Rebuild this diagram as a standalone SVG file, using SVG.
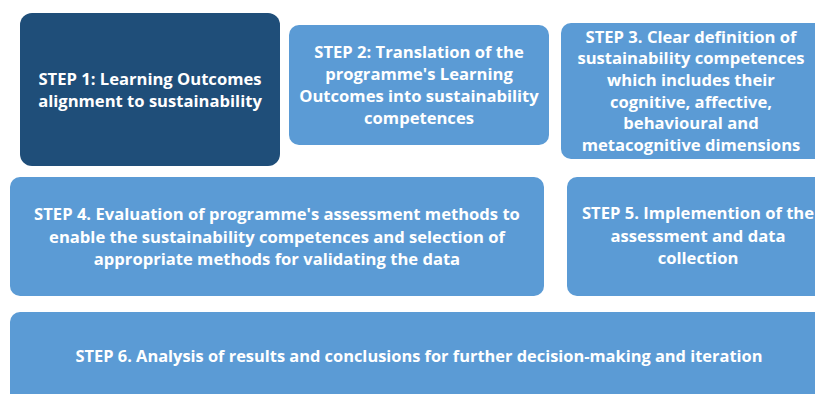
<svg xmlns="http://www.w3.org/2000/svg" width="815" height="394" viewBox="0 0 815 394">
<style>
.b{fill:#5B9BD5;}
.d{fill:#1F4E79;}
text{font-family:"Open Sans","Liberation Sans",sans-serif;font-weight:bold;font-size:16.6px;fill:#FFFFFF;text-anchor:middle;}
.s{font-size:16.4px;}
</style>
<rect width="815" height="394" fill="#FFFFFF"/>
<g id="step1">
<rect class="d" x="20" y="13" width="260" height="153" rx="12"/>
<text x="150" y="85">STEP 1: Learning Outcomes</text>
<text x="150" y="107">alignment to sustainability</text>
</g>
<g id="step2">
<rect class="b" x="289" y="25" width="260" height="120" rx="10"/>
<text x="419" y="58">STEP 2: Translation of the</text>
<text x="419" y="80">programme's Learning</text>
<text x="419" y="102">Outcomes into sustainability</text>
<text x="419" y="124">competences</text>
</g>
<g id="step3">
<rect class="b" x="561" y="23" width="270" height="136" rx="10"/>
<text x="691" y="43">STEP 3. Clear definition of</text>
<text x="691" y="64">sustainability competences</text>
<text x="691" y="86">which includes their</text>
<text x="691" y="108">cognitive, affective,</text>
<text x="691" y="129">behavioural and</text>
<text x="691" y="151">metacognitive dimensions</text>
</g>
<g id="step4">
<rect class="b" x="10" y="177" width="534" height="119" rx="10"/>
<text x="277" y="220">STEP 4. Evaluation of programme's assessment methods to</text>
<text x="277" y="243">enable the sustainability competences and selection of</text>
<text x="277" y="265">appropriate methods for validating the data</text>
</g>
<g id="step5">
<rect class="b" x="567" y="177" width="270" height="119" rx="10"/>
<text x="698" y="219">STEP 5. Implemention of the</text>
<text x="698" y="242">assessment and data</text>
<text x="698" y="264">collection</text>
</g>
<g id="step6">
<rect class="b" x="10" y="312" width="830" height="100" rx="10"/>
<text class="s" x="419" y="362">STEP 6. Analysis of results and conclusions for further decision-making and iteration</text>
</g>
<g id="connectors"></g>
</svg>
